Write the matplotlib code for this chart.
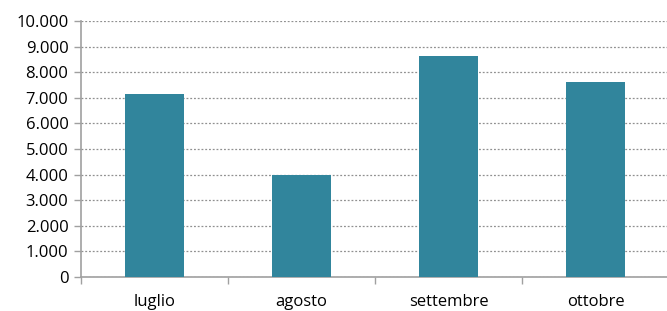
import matplotlib.pyplot as plt
from matplotlib.ticker import FuncFormatter

mesi = ['luglio', 'agosto', 'settembre', 'ottobre']
valori = [7150, 4000, 8630, 7600]

plt.rcParams['font.family'] = ['Liberation Sans Narrow', 'Open Sans', 'DejaVu Sans']

fig = plt.figure(figsize=(6.67, 3.11), dpi=100)
ax = fig.add_axes([81 / 667, 34 / 311, 588 / 667, 256 / 311])

x = range(len(mesi))
ax.bar(x, valori, width=0.4, color='#31859c', zorder=3)

ax.set_xlim(-0.5, len(mesi) - 0.5)
ax.set_ylim(0, 10000)
ax.set_yticks(range(0, 10001, 1000))
ax.yaxis.set_major_formatter(FuncFormatter(lambda v, p: f'{int(v):,}'.replace(',', '.')))
ax.set_xticks(x)
ax.set_xticklabels(mesi)
ax.set_xticks([i - 0.5 for i in range(len(mesi) + 1)], minor=True)
ax.tick_params(axis='x', which='major', length=0, pad=12, labelsize=12)
ax.tick_params(axis='x', which='minor', length=5, color='#a0a0a0', width=1)
ax.tick_params(axis='y', length=5, color='#a0a0a0', width=1, labelsize=12, pad=4)

ax.grid(axis='y', linestyle=(0, (1.5, 1.5)), color='#909090', linewidth=0.9, zorder=0)
for s in ['top', 'right']:
    ax.spines[s].set_visible(False)
for s in ['left', 'bottom']:
    ax.spines[s].set_color('#a0a0a0')
    ax.spines[s].set_linewidth(1.2)

fig.savefig('out.png', dpi=100)
